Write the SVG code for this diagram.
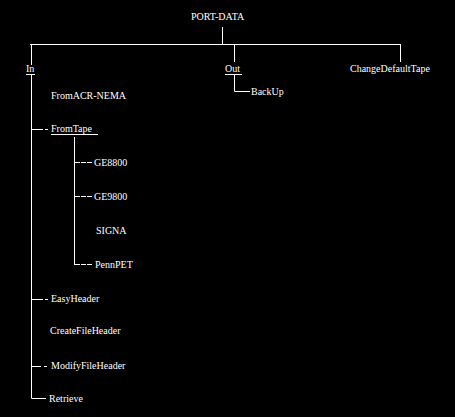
<svg xmlns="http://www.w3.org/2000/svg" width="455" height="417" viewBox="0 0 455 417">
<style>
text{font-family:"Liberation Serif","Times New Roman",serif;font-size:10px;fill:#fff}
.c path{fill:none;stroke:#fff;stroke-width:1}
.c rect{fill:#fff;stroke:none}
.d3{stroke-dasharray:5 1}
</style>
<rect width="455" height="417" fill="#000"/>
<g id="connectors" class="c">
<path d="M222.5 27V44.5M30 44.5H400.5M31.5 44V65M234.5 44V62M400.5 44V62"/>
<path d="M31.5 75V398.5H46"/>
<path d="M234.5 75V91.5H250"/>
<rect x="32" y="129" width="11" height="1"/>
<rect x="45" y="129" width="3" height="1"/>
<rect x="32" y="299" width="11" height="1"/>
<rect x="45" y="299" width="3" height="1"/>
<rect x="32" y="366" width="9" height="1"/>
<rect x="44" y="366" width="3" height="1"/>
<path d="M74.5 137V265"/>
<path class="d3" d="M75 162.5H92M75 196.5H92M75 264.5H92"/>
<path d="M26 74.5H35M225 74.5H242M51 134.5H98"/>
</g>
<g id="n-port-data"><text x="191" y="20">PORT-DATA</text></g>
<g id="n-in"><text x="26" y="72">In</text></g>
<g id="n-out"><text x="225" y="72">Out</text></g>
<g id="n-changedefaulttape"><text x="350" y="72">ChangeDefaultTape</text></g>
<g id="n-backup"><text x="251" y="95">BackUp</text></g>
<g id="n-fromacr-nema"><text x="51" y="99">FromACR-NEMA</text></g>
<g id="n-fromtape"><text x="51" y="132">FromTape</text></g>
<g id="n-ge8800"><text x="94" y="166">GE8800</text></g>
<g id="n-ge9800"><text x="94" y="200">GE9800</text></g>
<g id="n-signa"><text x="96" y="234">SIGNA</text></g>
<g id="n-pennpet"><text x="95" y="268">PennPET</text></g>
<g id="n-easyheader"><text x="51" y="302">EasyHeader</text></g>
<g id="n-createfileheader"><text x="50" y="334">CreateFileHeader</text></g>
<g id="n-modifyfileheader"><text x="51" y="369">ModifyFileHeader</text></g>
<g id="n-retrieve"><text x="49" y="402">Retrieve</text></g>
</svg>
